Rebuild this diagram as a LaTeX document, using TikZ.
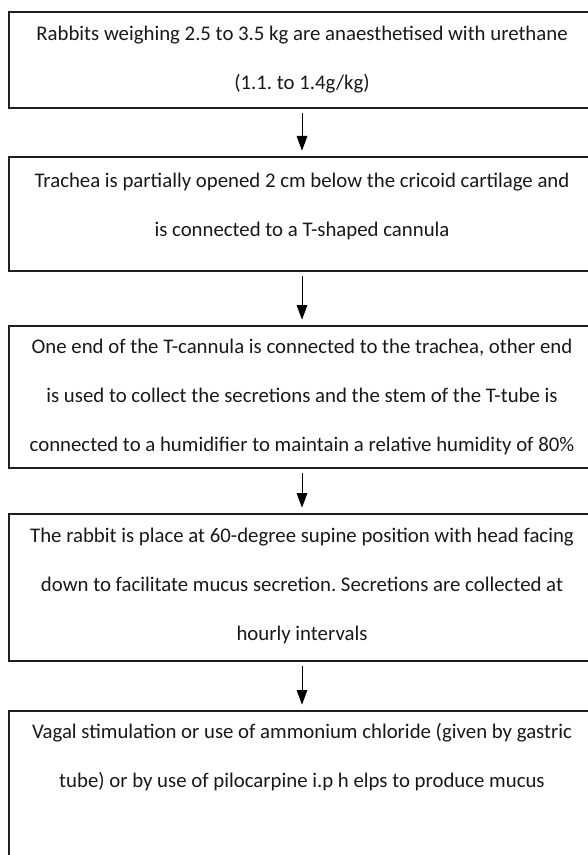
\documentclass[tikz,border=0pt]{standalone}
\usepackage{fontspec}
\setmainfont{Carlito}
\frenchspacing
\usetikzlibrary{arrows.meta}
\begin{document}
\begin{tikzpicture}[x=0.75pt,y=-0.75pt,
  stepbox/.style={draw=black!88, line width=1.3pt, rectangle, inner sep=0pt,
    anchor=north, minimum width=439.5pt, align=center, text=black!90,
    font=\fontsize{15.6}{36.75}\selectfont},
  flow/.style={draw=black, line width=0.75pt, shorten <=3pt, shorten >=4pt,
    -{Triangle[width=8pt,length=11pt]}}]
  \useasboundingbox (0,0) rectangle (587,855);
  \fill[white] (0,0) rectangle (587,855);

  \node[stepbox, minimum height=72pt] (b1) at (302,11)
    {Rabbits weighing 2.5 to 3.5 kg are anaesthetised with urethane\\
     (1.1. to 1.4g/kg)};
  \node[stepbox, minimum height=85.5pt] (b2) at (302,156)
    {Trachea is partially opened 2 cm below the cricoid cartilage and\\
     is connected to a T-shaped cannula\rule[-13.5pt]{0pt}{0pt}};
  \node[stepbox, minimum height=106.5pt] (b3) at (302,325)
    {One end of the T-cannula is connected to the trachea, other end\\
     is used to collect the secretions and the stem of the T-tube is\\
     connected to a humidifier to maintain a relative humidity of 80\%};
  \node[stepbox, minimum height=110.25pt] (b4) at (302,513)
    {The rabbit is place at 60-degree supine position with head facing\\
     down to facilitate mucus secretion. Secretions are collected at\\
     hourly intervals\rule[-4.5pt]{0pt}{0pt}};
  \node[stepbox, minimum height=150pt] (b5) at (302,710)
    {Vagal stimulation or use of ammonium chloride (given by gastric\\
     tube) or by use of pilocarpine i.p h elps to produce mucus\rule[-82.5pt]{0pt}{0pt}};

  \draw[flow] (b1.south) -- (b2.north);
  \draw[flow] (b2.south) -- (b3.north);
  \draw[flow] (b3.south) -- (b4.north);
  \draw[flow] (b4.south) -- (b5.north);
\end{tikzpicture}
\end{document}
